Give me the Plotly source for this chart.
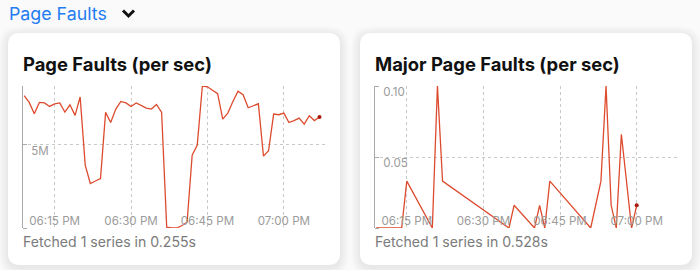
import plotly.graph_objects as go

W, H = 700, 270
DAY = "2024-05-14"

# Page faults per second, one sample per minute
pf_times = [f"18:{m:02d}" for m in range(9, 60)] + [f"19:{m:02d}" for m in range(0, 8)]
pf_values_m = [
    7.97, 7.56, 6.88, 7.56, 7.53, 7.32, 7.47, 7.53, 6.98, 7.42,
    6.78, 7.89, 3.79, 2.68, 2.83, 2.98, 6.96, 6.35, 7.16, 7.62,
    7.53, 7.32, 7.53, 7.38, 7.22, 7.16, 7.44, 6.96, 0.05, 0.01,
    0.00, 0.15, 0.35, 4.39, 5.00, 8.55, 8.50, 8.29, 8.09, 6.56,
    6.92, 7.62, 8.23, 8.03, 7.24, 7.36, 7.48, 4.33, 4.65, 6.86,
    6.82, 6.92, 6.35, 6.47, 6.62, 6.25, 6.76, 6.47, 6.68,
]

# Major page faults per second (sparse samples)
mpf_times = ["18:09", "18:14", "18:15", "18:20", "18:21", "18:22", "18:35", "18:36",
             "18:40", "18:41", "18:42", "18:43", "18:51", "18:53", "18:54", "18:55",
             "18:56", "18:57", "18:59", "19:00"]
mpf_values = [0.0, 0.0, 0.033, 0.0, 0.10, 0.033, 0.0, 0.016,
              0.0, 0.016, 0.0, 0.033, 0.0, 0.033, 0.10, 0.016,
              0.0, 0.066, 0.0, 0.016]

x_ticks = ["18:15", "18:30", "18:45", "19:00"]
pf_ticks = [0, 5e6]
pf_ticktext = ["", "5M"]
mpf_ticks = [0, 0.05, 0.10]
mpf_ticktext = ["", "0.05", "0.10"]

section_title = "Page Faults"
card_titles = ["Page Faults (per sec)", "Major Page Faults (per sec)"]
footers = ["Fetched 1 series in 0.255s", "Fetched 1 series in 0.528s"]

FONT = "Inter, 'Liberation Sans', sans-serif"
LINE = "#dd4b2e"
DOT = "#a8190c"
GRID = "#c9c9c9"
AXIS = "#a9a9a9"
TICK_TXT = "#9b9b9b"

PLOT_TOP, PLOT_BOTTOM = 86, 228
PANELS = [(22, 325), (374, 678)]


def ts(hm):
    return f"{DAY} {hm}"


def px(x):
    return x / W


def py(y):
    return 1 - y / H


pf_x = [ts(t) for t in pf_times]
pf_y = [v * 1e6 for v in pf_values_m]
mpf_x = [ts(t) for t in mpf_times]

fig = go.Figure()
fig.add_trace(go.Scatter(x=pf_x, y=pf_y, mode="lines", line=dict(color=LINE, width=1.3),
                         xaxis="x", yaxis="y", hoverinfo="skip", showlegend=False))
fig.add_trace(go.Scatter(x=[pf_x[-1]], y=[pf_y[-1]], mode="markers",
                         marker=dict(color=DOT, size=4), xaxis="x", yaxis="y",
                         hoverinfo="skip", showlegend=False, cliponaxis=False))
fig.add_trace(go.Scatter(x=mpf_x, y=mpf_values, mode="lines", line=dict(color=LINE, width=1.3),
                         xaxis="x2", yaxis="y2", hoverinfo="skip", showlegend=False,
                         cliponaxis=False))
fig.add_trace(go.Scatter(x=[mpf_x[-1]], y=[mpf_values[-1]], mode="markers",
                         marker=dict(color=DOT, size=4), xaxis="x2", yaxis="y2",
                         hoverinfo="skip", showlegend=False, cliponaxis=False))

x_range = [ts("18:08:35"), ts("19:08:05")]
y_dom = [py(PLOT_BOTTOM), py(PLOT_TOP)]

# Time labels sit just above the bottom edge, inside the panel
xaxis_common = dict(
    type="date", range=x_range, tickvals=[ts(t) for t in x_ticks], tickformat="%I:%M %p",
    showgrid=True, gridcolor=GRID, griddash="dot", gridwidth=1,
    showline=False, zeroline=False, ticks="", side="top", anchor="free",
    position=py(PLOT_BOTTOM), ticklabelstandoff=1,
    tickfont=dict(family=FONT, size=11.6, color=TICK_TXT), fixedrange=True,
)
# Value labels sit right of the axis line, just under their grid line
yaxis_common = dict(
    showgrid=True, gridcolor=GRID, griddash="dot", gridwidth=1,
    showline=True, linecolor=AXIS, linewidth=1, zeroline=False,
    ticks="outside", ticklen=4, tickcolor=AXIS, side="right", anchor="free",
    ticklabelshift=6, ticklabelstandoff=2,
    tickfont=dict(family=FONT, size=11.6, color=TICK_TXT), fixedrange=True,
)

fig.update_layout(
    width=W, height=H, margin=dict(l=0, r=0, t=0, b=0),
    paper_bgcolor="#fafafa", plot_bgcolor="rgba(0,0,0,0)",
    xaxis=dict(domain=[px(PANELS[0][0]), px(PANELS[0][1])], **xaxis_common),
    yaxis=dict(domain=y_dom, position=px(PANELS[0][0]), range=[0, max(pf_y)],
               tickvals=pf_ticks, ticktext=pf_ticktext, **yaxis_common),
    xaxis2=dict(domain=[px(PANELS[1][0]), px(PANELS[1][1])], **xaxis_common),
    yaxis2=dict(domain=y_dom, position=px(PANELS[1][0]), range=[0, max(mpf_values)],
                tickvals=mpf_ticks, ticktext=mpf_ticktext, **yaxis_common),
)


def rounded_rect(x0, y0, x1, y1, r):
    X0, X1 = px(x0), px(x1)
    Y0, Y1 = py(y0), py(y1)
    rx, ry = r / W, r / H
    return (f"M {X0 + rx} {Y0} L {X1 - rx} {Y0} Q {X1} {Y0} {X1} {Y0 - ry} "
            f"L {X1} {Y1 + ry} Q {X1} {Y1} {X1 - rx} {Y1} "
            f"L {X0 + rx} {Y1} Q {X0} {Y1} {X0} {Y1 + ry} "
            f"L {X0} {Y0 - ry} Q {X0} {Y0} {X0 + rx} {Y0} Z")


cards = [(8, 33, 340, 265), (360, 33, 692, 265)]
shapes = []
for (x0, y0, x1, y1) in cards:
    # soft drop shadow
    for grow in range(9, 0, -1):
        shapes.append(dict(type="path", xref="paper", yref="paper", layer="below",
                           path=rounded_rect(x0 - grow, y0 - grow + 2, x1 + grow, y1 + grow + 2, 12 + grow),
                           fillcolor="rgba(0,0,0,0.007)", line=dict(width=0)))
    shapes.append(dict(type="path", xref="paper", yref="paper", layer="below",
                       path=rounded_rect(x0, y0, x1, y1, 12),
                       fillcolor="#ffffff", line=dict(width=0)))

# collapse chevron next to the section title
shapes.append(dict(type="path", xref="paper", yref="paper", layer="above",
                   path=f"M {px(123)} {py(10.5)} L {px(128.5)} {py(16)} L {px(134)} {py(10.5)}",
                   line=dict(color="#111111", width=3)))
fig.update_layout(shapes=shapes)

annotations = [
    dict(text=section_title, x=px(7), y=py(13.5), xanchor="left", yanchor="middle",
         font=dict(family=FONT, size=17.8, color="#1f7cf2")),
]
for (x0, y0, x1, y1), title, foot, (axis_left, _) in zip(cards, card_titles, footers, PANELS):
    annotations.append(dict(text=f"<b>{title}</b>", x=px(axis_left - 1), y=py(64),
                            xanchor="left", yanchor="middle",
                            font=dict(family=FONT, size=18.4, color="#111111")))
    annotations.append(dict(text=foot, x=px(axis_left - 1), y=py(241.5),
                            xanchor="left", yanchor="middle",
                            font=dict(family=FONT, size=14.1, color="#7b7b7b")))
for a in annotations:
    a.update(xref="paper", yref="paper", showarrow=False)
fig.update_layout(annotations=annotations)

fig.write_html("out.html", config={"displayModeBar": False})
